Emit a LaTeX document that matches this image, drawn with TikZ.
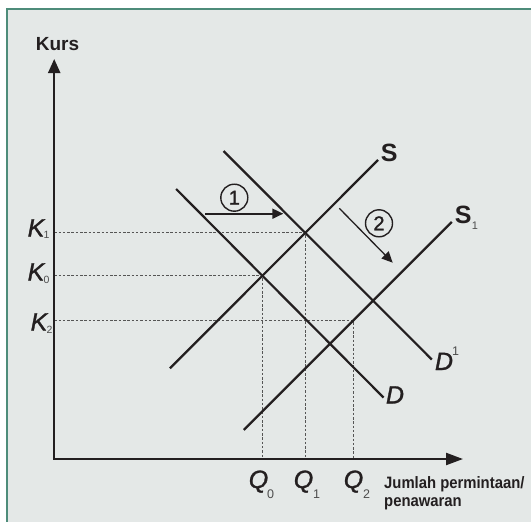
\documentclass[tikz,border=0pt]{standalone}
\usepackage{fontspec}
\setmainfont{Liberation Sans}
\newfontfamily\heavyfont[FakeBold=1.2]{Liberation Sans}
\usepackage{graphicx}
\usetikzlibrary{arrows.meta}
\definecolor{bgc}{HTML}{E4E8E7}
\definecolor{framec}{HTML}{4E8C7A}
\definecolor{ink}{HTML}{231F20}
\definecolor{subc}{HTML}{4D4D4D}
\definecolor{dashc}{HTML}{555555}
\begin{document}
\begin{tikzpicture}[x=1pt,y=-1pt,
  curve/.style={draw=ink,line width=2.2pt},
  axisline/.style={draw=ink,line width=2.2pt,line join=miter},
  guide/.style={draw=dashc,line width=0.9pt,dash pattern=on 2.5pt off 1.8pt},
  shiftarrow/.style={draw=ink,-{Triangle[length=11pt,width=10pt]}},
  numcircle/.style={circle,draw=ink,line width=1.4pt,minimum size=27pt,inner sep=0pt,font=\fontsize{20}{20}\heavyfont,text=ink},
  varlab/.style={font=\fontsize{25}{25}\heavyfont\itshape,text=ink,inner sep=0pt,anchor=base},
  boldlab/.style={font=\fontsize{25}{25}\selectfont\bfseries,text=ink,inner sep=0pt,anchor=base},
  ksub/.style={font=\fontsize{10.5}{10.5}\selectfont,text=subc,inner sep=0pt,anchor=base},
  qsub/.style={font=\fontsize{12.5}{12.5}\selectfont,text=subc,inner sep=0pt,anchor=base},
  axislab/.style={font=\fontsize{16.5}{18}\selectfont\bfseries,text=ink,inner sep=0pt,anchor=base west},
]
\useasboundingbox (0,0) rectangle (531,522);
\fill[white] (0,0) rectangle (531,522);
\fill[bgc] (7,9) rectangle (540,530);
\draw[framec,line width=2.5pt] (7,540) -- (7,9) -- (540,9);

% coordinates
\coordinate (O) at (54.2,459);
\coordinate (ytip) at (54.2,59);
\coordinate (xtip) at (463,459);
\coordinate (Sa) at (170,368.3);
\coordinate (Sb) at (378,160);
\coordinate (Da) at (176.1,189);
\coordinate (Db) at (383.5,397.5);
\coordinate (D1a) at (223.5,151);
\coordinate (D1b) at (431.8,359.5);
\coordinate (S1a) at (243.8,430);
\coordinate (S1b) at (451.8,222);
\coordinate (L2a) at (0,320.5);
\coordinate (L2b) at (520,320.5);
\coordinate (E0) at (intersection of Sa--Sb and Da--Db);
\coordinate (E1) at (intersection of Sa--Sb and D1a--D1b);
\coordinate (E2) at (intersection of S1a--S1b and L2a--L2b);
\coordinate (A1s) at (205,213.7);
\coordinate (A1e) at (283.3,213.7);
\coordinate (A2s) at (339.3,208.3);
\coordinate (A2e) at (392.7,262.7);

% guides
\draw[guide] (O |- E1) -- (E1) -- (E1 |- O);
\draw[guide] (O |- E0) -- (E0) -- (E0 |- O);
\draw[guide] (O |- E2) -- (E2) -- (E2 |- O);

% curves
\draw[curve] (Sa) -- (Sb);
\draw[curve] (Da) -- (Db);
\draw[curve] (D1a) -- (D1b);
\draw[curve] (S1a) -- (S1b);

% axes
\draw[axisline,{Triangle[length=14pt,width=12pt]}-{Triangle[length=17pt,width=12pt]}] (ytip) -- (O) -- (xtip);

% shift arrows
\draw[shiftarrow,line width=1.8pt] (A1s) -- (A1e);
\draw[shiftarrow,line width=1.3pt] (A2s) -- (A2e);
\node[numcircle] (c1) at (234.3,197.7) {1};
\node[numcircle] (c2) at (379,223.3) {2};

% labels
\node[boldlab,font=\fontsize{19}{19}\selectfont\bfseries] (kurs) at (57.5,50) {Kurs};
\node[varlab] (K1) at (36,236.5) {K};
\node[ksub] (K1s) at (46.5,238) {1};
\node[varlab] (K0) at (36,280.5) {K};
\node[ksub] (K0s) at (46.5,283.5) {0};
\node[varlab] (K2) at (39,330.5) {K};
\node[ksub] (K2s) at (49.5,333.5) {2};
\node[varlab] (Q0) at (258.5,488) {Q};
\node[qsub] (Q0s) at (270.5,498.5) {0};
\node[varlab] (Q1) at (303.5,488) {Q};
\node[qsub] (Q1s) at (316.5,498.5) {1};
\node[varlab] (Q2) at (353.5,488) {Q};
\node[qsub] (Q2s) at (366.5,498.5) {2};
\node[boldlab] (Slab) at (389.3,161.5) {S};
\node[boldlab] (S1lab) at (463.3,223) {S};
\node[qsub,font=\fontsize{11}{11}\selectfont] (S1s) at (475,229.5) {1};
\node[varlab] (Dlab) at (395,403.5) {D};
\node[varlab] (D1lab) at (444,370) {D};
\node[qsub] (D1s) at (455.5,355) {1};
\node[axislab] (jl1) at (384,488.3) {\scalebox{0.9}[1]{Jumlah permintaan/}};
\node[axislab] (jl2) at (384,506.7) {\scalebox{0.9}[1]{penawaran}};
\end{tikzpicture}
\end{document}
